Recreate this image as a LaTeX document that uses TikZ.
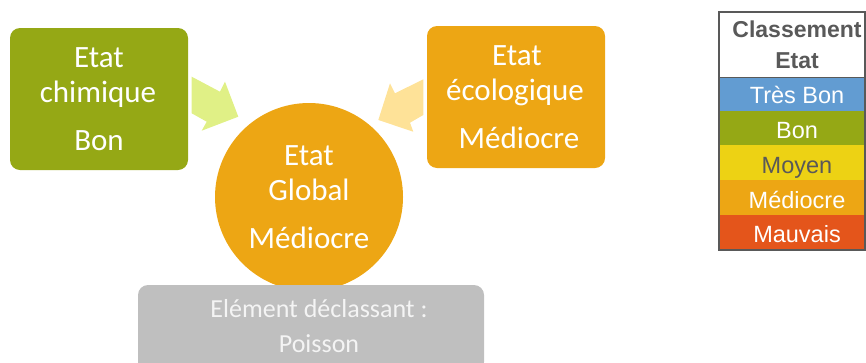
\documentclass[tikz,border=0pt]{standalone}
\usepackage{fontspec}
\setmainfont{Carlito}
\newfontfamily\arialfont{Liberation Sans}
\definecolor{cgreen}{RGB}{149,168,21}
\definecolor{corange}{RGB}{237,166,20}
\definecolor{clgreen}{RGB}{224,240,134}
\definecolor{clorange}{RGB}{254,226,152}
\definecolor{cgray}{RGB}{191,191,191}
\definecolor{cgraytext}{RGB}{244,244,244}
\definecolor{cdark}{RGB}{89,89,89}
\definecolor{cblue}{RGB}{98,156,210}
\definecolor{cyellow}{RGB}{237,210,20}
\definecolor{cred}{RGB}{228,85,27}
\tikzset{
  bigtxt/.style={text=white,anchor=base,inner sep=0pt,font=\fontsize{31}{35}\selectfont},
  graytxt/.style={text=cgraytext,anchor=base,inner sep=0pt,font=\fontsize{26}{30}\selectfont},
  tabtxt/.style={anchor=base,inner sep=0pt,font=\arialfont\fontsize{23.5}{27}\selectfont},
  tabhead/.style={anchor=base,inner sep=0pt,text=cdark,font=\arialfont\bfseries\fontsize{23}{27}\selectfont},
}
\begin{document}
\begin{tikzpicture}[x=1pt,y=-1pt]
\useasboundingbox (0,0) rectangle (866,362);
% boxes
\fill[cgreen,rounded corners=10pt] (10,28) rectangle (188,170);
\fill[corange,rounded corners=10pt] (427,26) rectangle (605,168);
% arrows
\fill[clgreen] (191.7,76.7) -- (220,91.7) -- (225,81.7) -- (238.3,116.7) -- (201.7,130.7) -- (206.7,121.7) -- (191.7,113.3) -- cycle;
\fill[clorange] (423.3,79.3) -- (395,93.3) -- (390,83.3) -- (378.3,120) -- (413.3,131.7) -- (410,122.7) -- (423.3,115) -- cycle;
% circle
\fill[corange] (309,197) circle[radius=94];
% gray box
\fill[cgray,rounded corners=10pt] (138,285) rectangle (484,372);
% texts
\node[bigtxt] (g1) at (99,67) {Etat};
\node[bigtxt] (g2) at (98,102) {chimique};
\node[bigtxt] (g3) at (99,150) {Bon};
\node[bigtxt] (o1) at (517,65) {Etat};
\node[bigtxt] (o2) at (515,100) {écologique};
\node[bigtxt] (o3) at (519,148) {Médiocre};
\node[bigtxt] (c1) at (309,165) {Etat};
\node[bigtxt] (c2) at (309,200) {Global};
\node[bigtxt] (c3) at (309,248) {Médiocre};
\node[graytxt] (p1) at (319,317) {Elément déclassant :};
\node[graytxt] (p2) at (319,352) {Poisson};
% table
\fill[white] (719,12) rectangle (865,77);
\fill[cblue] (719,77) rectangle (865,111);
\fill[cgreen] (719,111) rectangle (865,145);
\fill[cyellow] (719,145) rectangle (865,180);
\fill[corange] (719,180) rectangle (865,215);
\fill[cred] (719,215) rectangle (865,250);
\draw[cdark,line width=1.5pt] (719,12) rectangle (865,250);
\draw[cdark,line width=1pt] (719,77) -- (865,77);
\node[tabhead] (h1) at (797,37) {Classement};
\node[tabhead] (h2) at (797,68) {Etat};
\node[tabtxt,text=white] (r1) at (797,103) {Très Bon};
\node[tabtxt,text=white] (r2) at (797,138) {Bon};
\node[tabtxt,text=cdark] (r3) at (797,173) {Moyen};
\node[tabtxt,text=white] (r4) at (797,208) {Médiocre};
\node[tabtxt,text=white] (r5) at (797,242) {Mauvais};
\end{tikzpicture}
\end{document}
